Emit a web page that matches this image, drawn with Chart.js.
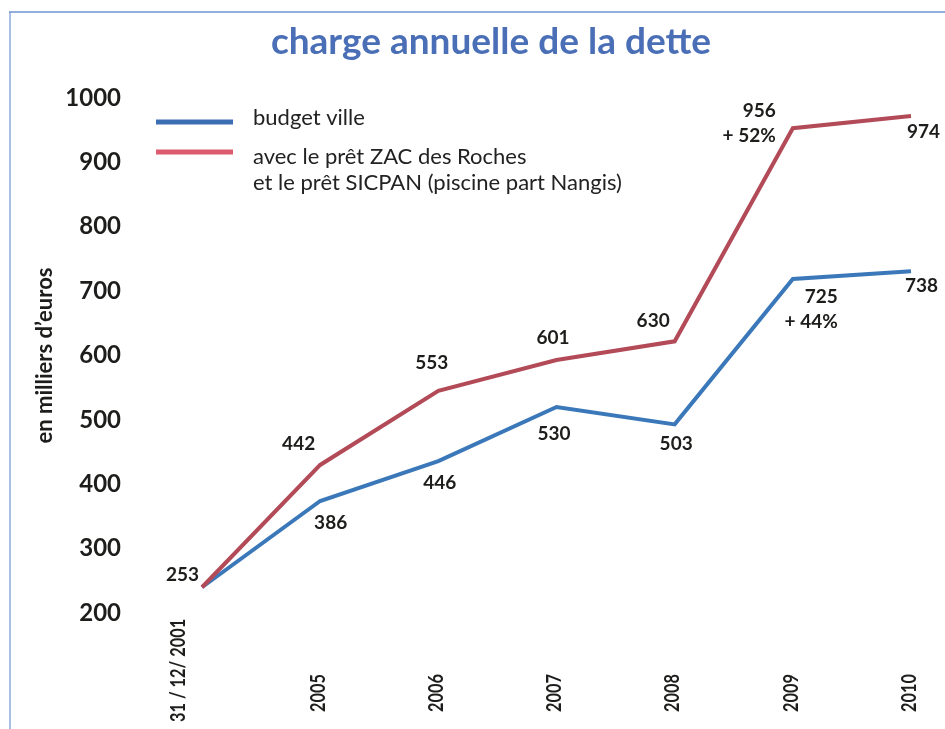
<!DOCTYPE html>
<html>
<head>
<meta charset="utf-8">
<script src="https://cdn.jsdelivr.net/npm/chart.js@4.4.0/dist/chart.umd.min.js"></script>
<style>
  html, body { margin: 0; padding: 0; background: #fff; }
  #wrap { width: 945px; height: 729px; position: relative; }
</style>
</head>
<body>
<div id="wrap"><canvas id="detteChart" width="945" height="729"></canvas></div>
<script>
// Données
const annees = ['31 / 12/ 2001', '2005', '2006', '2007', '2008', '2009', '2010'];
const budgetVille = [240, 374, 436, 520, 493, 719, 731];
const avecPrets = [240, 430, 545, 593, 622, 953, 972];
const etiquettesBudget = ['', '386', '446', '530', '503', ['725', '+ 44%'], '738'];
const etiquettesPrets = ['253', '442', '553', '601', '630', ['956', '+ 52%'], '974'];
const nomBudget = ['budget ville'];
const nomPrets = ['avec le prêt ZAC des Roches', 'et le prêt SICPAN (piscine part Nangis)'];
const graduations = [200, 300, 400, 500, 600, 700, 800, 900, 1000];

// Décalages des étiquettes (bord droit du texte par rapport au point)
const decalBudget = [[0, 0], [27, 22], [18, 22], [14, 27], [18, 19], [45, 18], [27, 15]];
const decalPrets = [[-3, -12], [-5, -21], [10, -28], [13, -22], [-5, -20], [-17, -17], [29, 16]];

const bleu = '#3b78b9';
const rouge = '#b24b57';
const texte = '#1d1d1b';

// Plugin pour le titre, la légende, les étiquettes et le cadre
const decorPlugin = {
    id: 'decor',
    afterDraw(chart) {
        const ctx = chart.ctx;
        const x = chart.scales.x;

        ctx.save();

        // cadre
        ctx.strokeStyle = '#a9bfe3';
        ctx.lineWidth = 2;
        ctx.beginPath();
        ctx.moveTo(10, 12);
        ctx.lineTo(10, 729);
        ctx.stroke();
        ctx.strokeStyle = '#7094d0';
        ctx.lineWidth = 1.5;
        ctx.beginPath();
        ctx.moveTo(9, 12);
        ctx.lineTo(945, 12);
        ctx.stroke();

        // titre
        ctx.fillStyle = '#4a6fb6';
        ctx.font = 'bold 37px Lato';
        ctx.textAlign = 'center';
        ctx.textBaseline = 'middle';
        ctx.fillText('charge annuelle de la dette', 491, 42);

        // légende
        ctx.lineWidth = 5;
        ctx.strokeStyle = '#3c6eb4';
        ctx.beginPath();
        ctx.moveTo(156, 122);
        ctx.lineTo(233, 122);
        ctx.stroke();
        ctx.strokeStyle = '#dc5b6d';
        ctx.beginPath();
        ctx.moveTo(156, 152);
        ctx.lineTo(233, 152);
        ctx.stroke();
        ctx.fillStyle = '#222';
        ctx.font = '22px Lato';
        ctx.textAlign = 'left';
        nomBudget.forEach((l, i) => ctx.fillText(l, 253, 118 + i * 26));
        nomPrets.forEach((l, i) => ctx.fillText(l, 253, 157 + i * 26));

        // étiquettes des valeurs
        ctx.fillStyle = texte;
        ctx.font = 'bold 19px Lato';
        ctx.textAlign = 'right';
        const dessiner = (meta, etiquettes, decal) => {
            meta.data.forEach((pt, i) => {
                const lignes = [].concat(etiquettes[i]);
                lignes.forEach((l, j) => {
                    ctx.fillText(l, pt.x + decal[i][0], pt.y + decal[i][1] + j * 25);
                });
            });
        };
        dessiner(chart.getDatasetMeta(0), etiquettesBudget, decalBudget);
        dessiner(chart.getDatasetMeta(1), etiquettesPrets, decalPrets);

        // libellés de l'axe des x (verticaux, police resserrée)
        ctx.font = 'bold 21px Lato';
        ctx.textAlign = 'left';
        annees.forEach((a, i) => {
            ctx.save();
            ctx.translate(x.getPixelForValue(i) + (i === 0 ? -24 : -2), i === 0 ? 722 : 712);
            ctx.rotate(-Math.PI / 2);
            ctx.scale(0.78, 1);
            ctx.fillText(a, 0, 0);
            ctx.restore();
        });

        ctx.restore();
    }
};

const ctx = document.getElementById('detteChart').getContext('2d');
new Chart(ctx, {
    type: 'line',
    data: {
        labels: annees,
        datasets: [
            {
                label: nomBudget.join(' '),
                data: budgetVille,
                borderColor: bleu,
                borderWidth: 4,
                pointRadius: 0,
                tension: 0,
                order: 1
            },
            {
                label: nomPrets.join(' '),
                data: avecPrets,
                borderColor: rouge,
                borderWidth: 4,
                pointRadius: 0,
                tension: 0,
                order: 0
            }
        ]
    },
    options: {
        responsive: false,
        animation: false,
        layout: {
            padding: { left: 10, right: 34, top: 98, bottom: 116 }
        },
        plugins: {
            legend: { display: false },
            tooltip: { enabled: false }
        },
        scales: {
            x: {
                display: false,
                offset: false
            },
            y: {
                min: 200,
                max: 1000,
                afterFit: s => { s.width = 192; },
                afterBuildTicks: s => { s.ticks = graduations.map(v => ({ value: v })); },
                grid: { display: false, drawTicks: false },
                border: { display: false },
                ticks: {
                    padding: 81,
                    color: texte,
                    font: { family: 'Lato', size: 24, weight: 'bold' },
                    callback: v => String(v)
                },
                title: {
                    display: true,
                    text: 'en milliers d’euros',
                    color: texte,
                    font: { family: 'Lato', size: 22, weight: 'bold' },
                    padding: { top: 22, bottom: 0 }
                }
            }
        }
    },
    plugins: [decorPlugin]
});
</script>
</body>
</html>
